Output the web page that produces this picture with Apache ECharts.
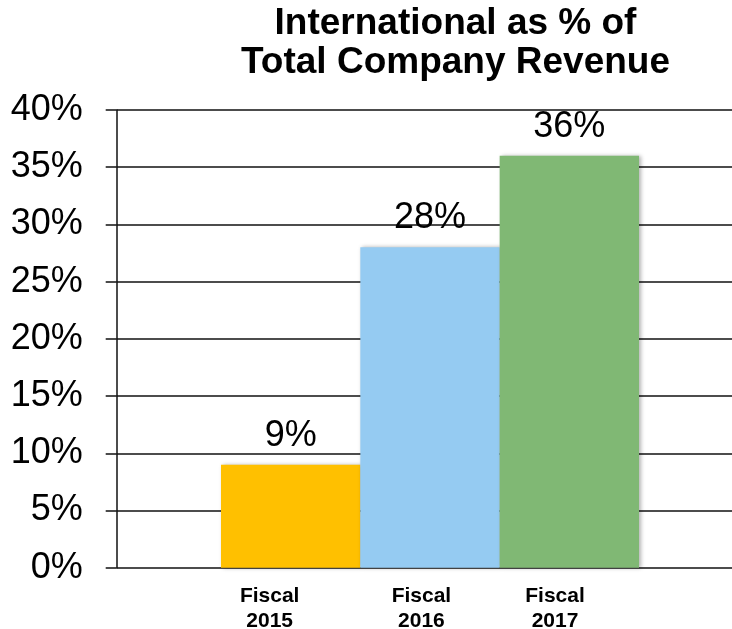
<!DOCTYPE html>
<html>
<head>
<meta charset="utf-8">
<script src="https://cdn.jsdelivr.net/npm/echarts@6/dist/echarts.min.js"></script>
<style>
html,body{margin:0;padding:0;background:#fff;}
#chart{width:732px;height:629px;}
</style>
</head>
<body>
<div id="chart"></div>
<script>
const titleLines = ['International as % of', 'Total Company Revenue'];
const categories = ['Fiscal\n2015', 'Fiscal\n2016', 'Fiscal\n2017'];
const values = [9, 28, 36];
const colors = ['#FFC000', '#95CBF2', '#80B874'];
const labelShift = [21, 8.6, 14.3];
const yMin = 0, yMax = 40, yStep = 5;

const FONT = '"Liberation Sans", Arial, Helvetica, sans-serif';
const chart = echarts.init(document.getElementById('chart'), null, {renderer: 'canvas'});

const option = {
  animation: false,
  backgroundColor: '#fff',
  graphic: [{
    type: 'text',
    x: 455.5,
    y: 4,
    style: {
      text: titleLines.join('\n'),
      fill: '#000',
      font: 'bold 37px ' + FONT,
      textAlign: 'center',
      textVerticalAlign: 'top',
      lineHeight: 39
    }
  }],
  grid: [
    {left: 116.7, right: 0, top: 110, bottom: 61.3, containLabel: false, outerBoundsMode: 'none'},
    {left: 221, right: 93, top: 110, bottom: 61.3, containLabel: false, outerBoundsMode: 'none'}
  ],
  xAxis: [
    {type: 'category', gridIndex: 0, show: false, data: categories},
    {
      type: 'category', gridIndex: 1, data: categories.map((c, i) => ({
        value: c,
        textStyle: {padding: [0, labelShift[i] * 2, 0, 0]}
      })),
      axisLine: {show: false}, axisTick: {show: false},
      axisLabel: {
        color: '#000', fontFamily: FONT, fontWeight: 'bold', fontSize: 21,
        lineHeight: 25, margin: 16, interval: 0
      }
    }
  ],
  yAxis: [
    {
      type: 'value', gridIndex: 0, min: yMin, max: yMax, interval: yStep,
      axisLine: {show: true, lineStyle: {color: '#111', width: 1.5}},
      axisTick: {show: true, inside: false, length: 11, lineStyle: {color: '#111', width: 1.5}},
      splitLine: {show: true, lineStyle: {color: '#111', width: 1.5}},
      axisLabel: {
        formatter: '{value}%', color: '#000', fontFamily: FONT, fontSize: 36, margin: 34
      }
    },
    {type: 'value', gridIndex: 1, min: yMin, max: yMax, interval: yStep, show: false, splitLine: {show: false}}
  ],
  series: [{
    type: 'bar',
    xAxisIndex: 1, yAxisIndex: 1,
    barWidth: '100%',
    data: values.map((v, i) => ({value: v, itemStyle: {color: colors[i]}})),
    itemStyle: {
      shadowColor: 'rgba(0,0,0,0.3)', shadowBlur: 4, shadowOffsetX: 2, shadowOffsetY: 0
    },
    label: {
      show: true, position: 'top', distance: 11,
      formatter: '{c}%', color: '#000', fontFamily: FONT, fontSize: 36
    }
  }]
};
chart.setOption(option);
</script>
</body>
</html>
